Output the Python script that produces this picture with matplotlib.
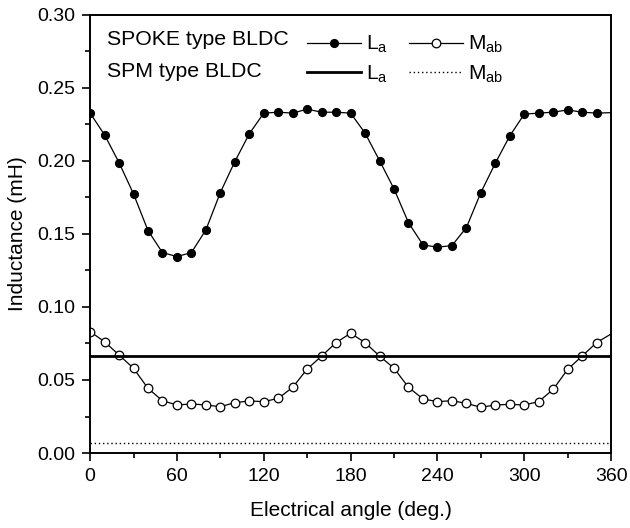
import numpy as np
import matplotlib
matplotlib.use("Agg")
import matplotlib.pyplot as plt
from matplotlib.lines import Line2D
from matplotlib.ticker import MultipleLocator

plt.rcParams['font.family'] = ['Liberation Sans', 'DejaVu Sans']
plt.rcParams['mathtext.default'] = 'regular'

# electrical angle (deg.)
angle = [0, 10, 20, 30, 40, 50, 60, 70, 80, 90, 100, 110, 120, 130, 140, 150, 160, 170, 180,
         190, 200, 210, 220, 230, 240, 250, 260, 270, 280, 290, 300, 310, 320, 330, 340, 350, 360]

# SPOKE type BLDC
spoke_la = [0.2327, 0.2178, 0.1988, 0.1774, 0.1523, 0.1372, 0.1345, 0.1372, 0.1527, 0.1783,
            0.1995, 0.2185, 0.2327, 0.2333, 0.2327, 0.2354, 0.2333, 0.2333, 0.2327,
            0.2190, 0.2002, 0.1808, 0.1577, 0.1425, 0.1409, 0.1420, 0.1543, 0.1783, 0.1984,
            0.2171, 0.2320, 0.2327, 0.2333, 0.2349, 0.2333, 0.2327, 0.2330]
spoke_mab = [0.0831, 0.0762, 0.0671, 0.0580, 0.0443, 0.0358, 0.0329, 0.0336, 0.0329, 0.0317,
             0.0345, 0.0356, 0.0352, 0.0374, 0.0450, 0.0575, 0.0664, 0.0756, 0.0820,
             0.0756, 0.0664, 0.0580, 0.0450, 0.0370, 0.0352, 0.0358, 0.0340, 0.0313, 0.0329,
             0.0333, 0.0329, 0.0352, 0.0436, 0.0573, 0.0664, 0.0756, 0.0815]

# SPM type BLDC (constant)
spm_angle = [0, 360]
spm_la = [0.0665, 0.0665]
spm_mab = [0.0072, 0.0072]

fig = plt.figure(figsize=(6.3, 5.28), dpi=100)
ax = fig.add_axes([0.143, 0.142, 0.827, 0.830])

ax.plot(angle, spoke_la, color='black', lw=0.9, marker='o', ms=5.6,
        mfc='black', mec='black', markevery=slice(0, 36))
ax.plot(angle, spoke_mab, color='black', lw=0.9, marker='o', ms=6.2,
        mfc='white', mec='black', mew=0.9, markevery=slice(0, 36))
ax.plot(spm_angle, spm_la, color='black', lw=2.0)
ax.plot(spm_angle, spm_mab, color='black', lw=1.0, ls=(0, (1, 2)))

ax.set_xlim(0, 360)
ax.set_ylim(0, 0.30)
ax.xaxis.set_major_locator(MultipleLocator(60))
ax.xaxis.set_minor_locator(MultipleLocator(30))
ax.yaxis.set_major_locator(MultipleLocator(0.05))
ax.yaxis.set_minor_locator(MultipleLocator(0.025))
ax.yaxis.set_major_formatter(matplotlib.ticker.FormatStrFormatter('%.2f'))
ax.tick_params(which='both', direction='out', top=False, right=False,
               labelsize=14, width=1.2)
ax.tick_params(which='major', length=6, pad=5)
ax.tick_params(which='minor', length=3.5)
for s in ax.spines.values():
    s.set_linewidth(1.4)

ax.set_xlabel('Electrical angle (deg.)', fontsize=15, labelpad=11)
ax.set_ylabel('Inductance (mH)', fontsize=15, labelpad=7)

# legend: row titles as text, handles in a 2-col legend
ax.text(0.033, 0.9315, 'SPOKE type BLDC', transform=ax.transAxes, fontsize=15.3,
        va='baseline', ha='left')
ax.text(0.033, 0.858, 'SPM type BLDC', transform=ax.transAxes, fontsize=15.3,
        va='baseline', ha='left')
handles = [
    Line2D([], [], color='black', lw=0.9, marker='o', ms=5.6, mfc='black'),
    Line2D([], [], color='black', lw=2.0),
    Line2D([], [], color='black', lw=0.9, marker='o', ms=6.2, mfc='white', mew=0.9),
    Line2D([], [], color='black', lw=1.0, ls=(0, (1, 2))),
]
labels = ['L$_a$', 'L$_a$', 'M$_{ab}$', 'M$_{ab}$']
ax.legend(handles, labels, ncol=2, loc='upper left', bbox_to_anchor=(0.40, 0.975),
          frameon=False, fontsize=15, handlelength=2.6, handletextpad=0.25,
          columnspacing=1.0, labelspacing=0.4, borderaxespad=0)

fig.savefig('out.png', dpi=100)
